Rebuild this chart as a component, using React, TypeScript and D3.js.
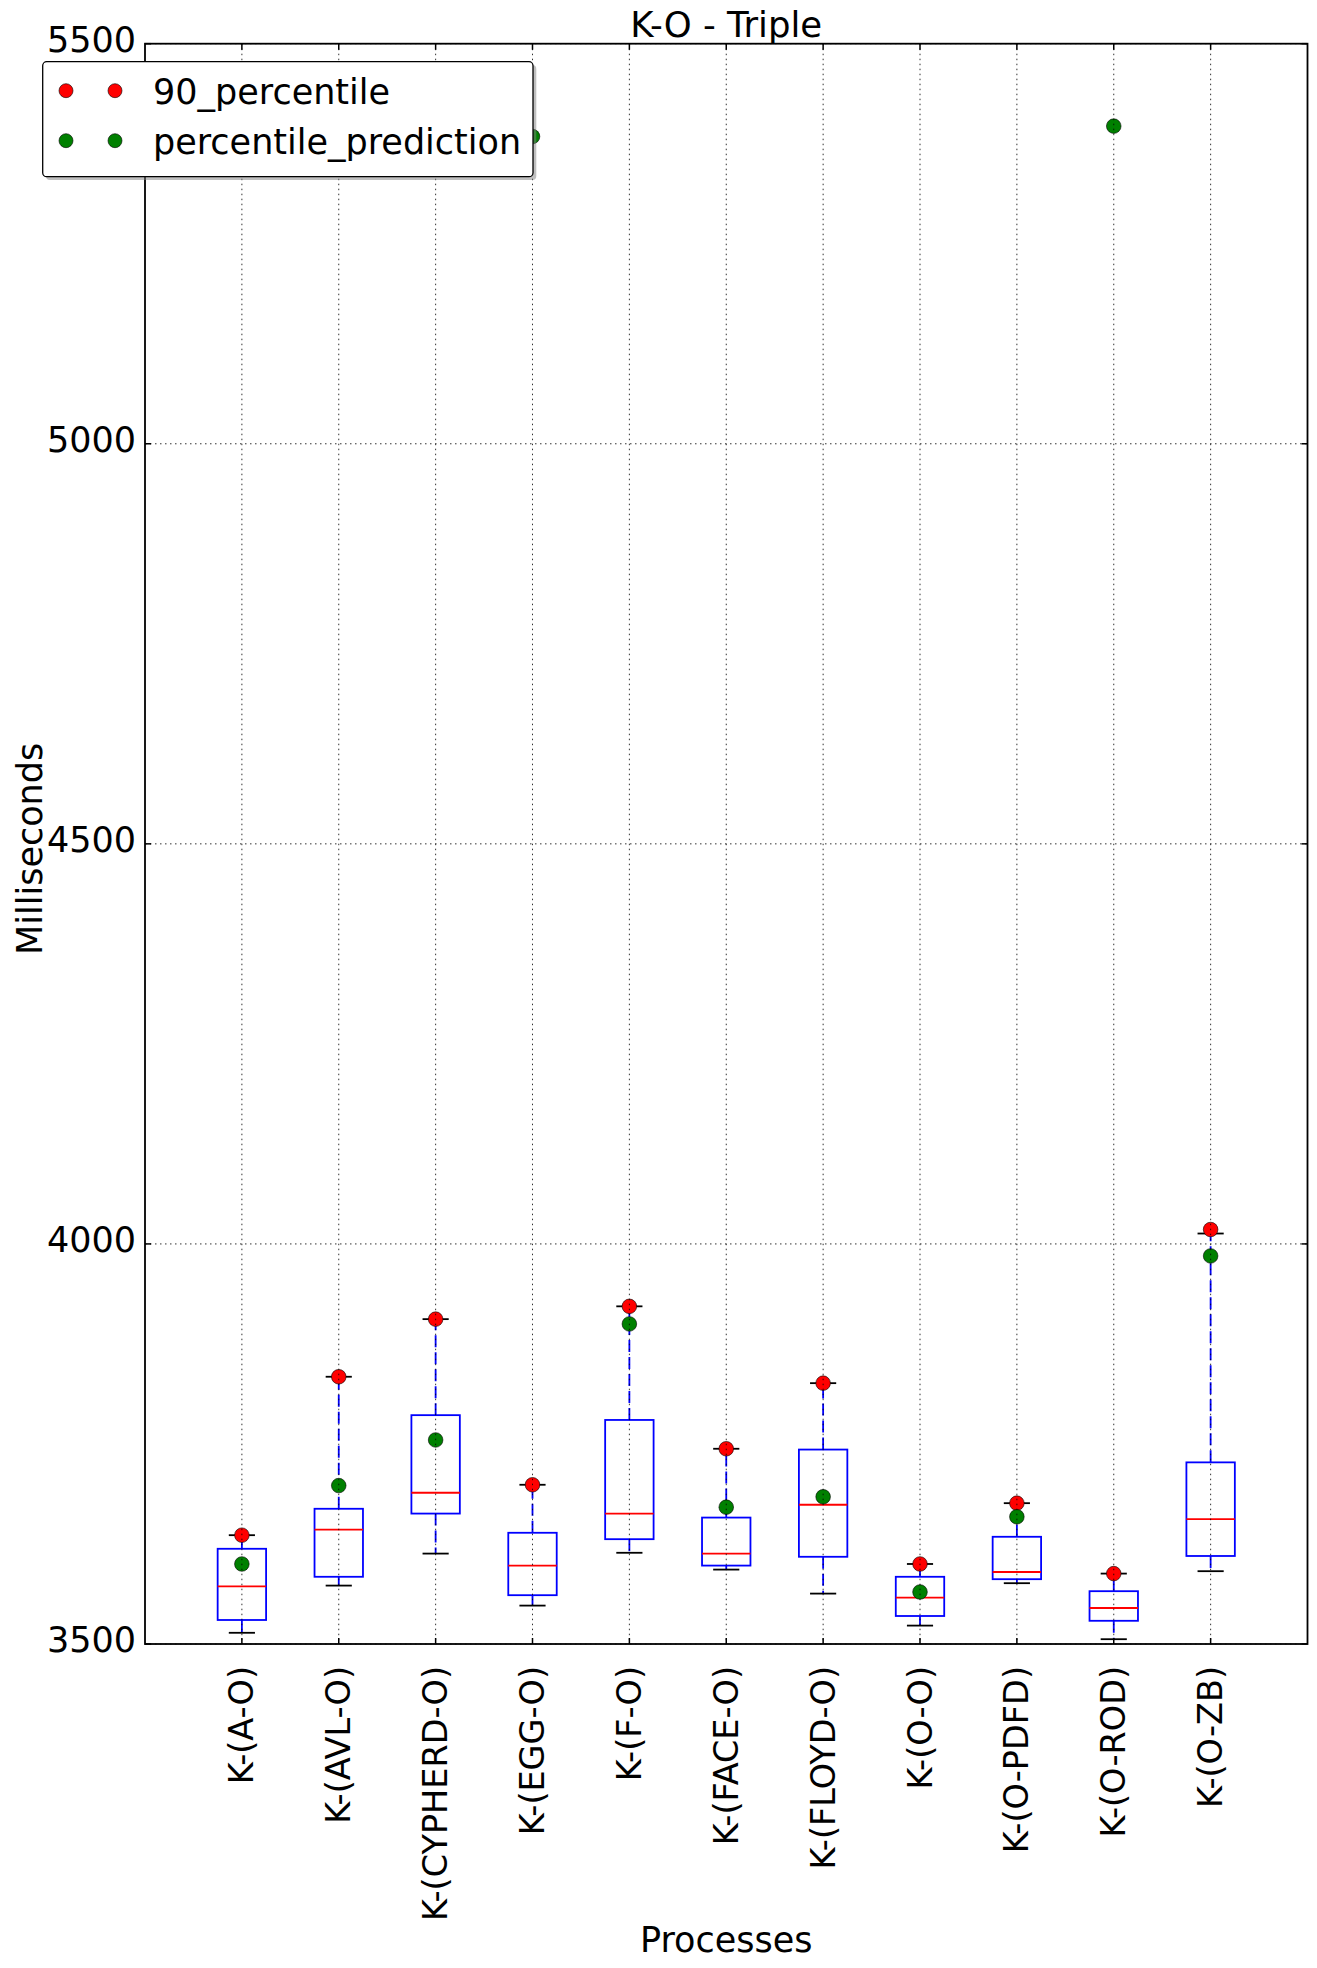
import React, { Component } from 'react';
import * as d3 from "d3";

const categories = ['K-(A-O)', 'K-(AVL-O)', 'K-(CYPHERD-O)', 'K-(EGG-O)', 'K-(F-O)', 'K-(FACE-O)',
  'K-(FLOYD-O)', 'K-(O-O)', 'K-(O-PDFD)', 'K-(O-ROD)', 'K-(O-ZB)'];
const whiskerLow = [3514, 3573, 3613, 3548, 3614, 3593, 3563, 3523, 3576, 3506, 3591];
const q1 = [3530, 3584, 3663, 3561, 3631, 3598, 3609, 3535, 3581, 3529, 3610];
const median = [3572, 3643, 3689, 3598, 3663, 3613, 3674, 3558, 3590, 3545, 3656];
const q3 = [3619, 3669, 3786, 3639, 3780, 3658, 3743, 3584, 3634, 3566, 3727];
const whiskerHigh = [3636, 3834, 3906, 3699, 3922, 3744, 3826, 3600, 3676, 3588, 4013];
const percentile90 = [3636, 3834, 3906, 3699, 3922, 3744, 3826, 3600, 3676, 3588, 4018];
const percentilePrediction = [3600, 3698, 3755, 5384, 3900, 3671, 3684, 3565, 3659, 5397, 3985];
const yTicks = [3500, 4000, 4500, 5000, 5500];

const FONT = "'DejaVu Sans', sans-serif";

class Chart extends Component {
  componentDidMount() {
    this.renderChart();
  }
  renderChart() {
    const width = 1317, height = 1968;
    d3.selectAll("#chart > *").remove();

    const svg = d3.select("#chart")
      .append("svg")
      .attr("width", width)
      .attr("height", height)
      .style("display", "block")
      .attr("font-family", FONT);

    const left = 145, right = 1307.5, top = 43.7, bottom = 1644;

    // positions 1..11 like matplotlib boxplot, xlim 0..12
    const x = d3.scaleLinear().domain([0, categories.length + 1]).range([left, right]);
    const y = d3.scaleLinear().domain([3500, 5500]).range([bottom, top]);
    const unit = x(1) - x(0);
    const boxW = unit * 0.5, capW = unit * 0.27;

    const rows = categories.map((c, i) => ({
      name: c, pos: i + 1, lo: whiskerLow[i], q1: q1[i], med: median[i], q3: q3[i],
      hi: whiskerHigh[i], p90: percentile90[i], pred: percentilePrediction[i]
    }));

    const plot = svg.append("g");

    // whiskers (dashed blue)
    rows.forEach(d => {
      const cx = x(d.pos);
      [[d.q3, d.hi], [d.q1, d.lo]].forEach(([a, b]) => {
        plot.append("line")
          .attr("x1", cx).attr("x2", cx)
          .attr("y1", y(a)).attr("y2", y(b))
          .attr("stroke", "#0000ff")
          .attr("stroke-width", 1.8)
          .attr("stroke-dasharray", "12,5");
      });
      // caps
      [d.hi, d.lo].forEach(v => {
        plot.append("line")
          .attr("x1", cx - capW / 2).attr("x2", cx + capW / 2)
          .attr("y1", y(v)).attr("y2", y(v))
          .attr("stroke", "#000")
          .attr("stroke-width", 1.8);
      });
      // box
      plot.append("rect")
        .attr("x", cx - boxW / 2)
        .attr("y", y(d.q3))
        .attr("width", boxW)
        .attr("height", y(d.q1) - y(d.q3))
        .attr("fill", "none")
        .attr("stroke", "#0000ff")
        .attr("stroke-width", 1.8);
      // median
      plot.append("line")
        .attr("x1", cx - boxW / 2).attr("x2", cx + boxW / 2)
        .attr("y1", y(d.med)).attr("y2", y(d.med))
        .attr("stroke", "#ff0000")
        .attr("stroke-width", 1.8);
    });

    // points
    const r = 7.3;
    plot.selectAll(".p90").data(rows).enter().append("circle")
      .attr("cx", d => x(d.pos)).attr("cy", d => y(d.p90)).attr("r", r)
      .attr("fill", "#ff0000").attr("stroke", "#000").attr("stroke-width", 0.6);
    plot.selectAll(".pred").data(rows).enter().append("circle")
      .attr("cx", d => x(d.pos)).attr("cy", d => y(d.pred)).attr("r", r)
      .attr("fill", "#008000").attr("stroke", "#000").attr("stroke-width", 0.6);

    // grid drawn on top (classic style)
    const grid = svg.append("g")
      .attr("stroke", "#000")
      .attr("stroke-width", 1)
      .attr("stroke-dasharray", "1.5,3.5")
      .attr("opacity", 0.8);
    rows.forEach(d => {
      grid.append("line").attr("x1", x(d.pos)).attr("x2", x(d.pos)).attr("y1", top).attr("y2", bottom);
    });
    yTicks.forEach(t => {
      grid.append("line").attr("x1", left).attr("x2", right).attr("y1", y(t)).attr("y2", y(t));
    });

    // ticks inward on all sides
    const ticks = svg.append("g").attr("stroke", "#000").attr("stroke-width", 1.5);
    rows.forEach(d => {
      ticks.append("line").attr("x1", x(d.pos)).attr("x2", x(d.pos)).attr("y1", bottom).attr("y2", bottom - 6);
      ticks.append("line").attr("x1", x(d.pos)).attr("x2", x(d.pos)).attr("y1", top).attr("y2", top + 6);
    });
    yTicks.forEach(t => {
      ticks.append("line").attr("x1", left).attr("x2", left + 6).attr("y1", y(t)).attr("y2", y(t));
      ticks.append("line").attr("x1", right).attr("x2", right - 6).attr("y1", y(t)).attr("y2", y(t));
    });

    // frame
    svg.append("rect")
      .attr("x", left).attr("y", top)
      .attr("width", right - left).attr("height", bottom - top)
      .attr("fill", "none").attr("stroke", "#000").attr("stroke-width", 1.8);

    // tick labels
    yTicks.forEach(t => {
      svg.append("text")
        .attr("x", left - 9).attr("y", y(t) + 8)
        .attr("text-anchor", "end")
        .attr("font-size", 35)
        .text(t);
    });
    rows.forEach(d => {
      svg.append("text")
        .attr("transform", "translate(" + x(d.pos) + "," + (bottom + 22) + ") rotate(-90)")
        .attr("text-anchor", "end")
        .attr("dominant-baseline", "central")
        .attr("font-size", 33.5)
        .text(d.name);
    });

    // titles
    svg.append("text")
      .attr("x", (left + right) / 2).attr("y", 37.3)
      .attr("text-anchor", "middle")
      .attr("font-size", 35.5)
      .text("K-O - Triple");
    svg.append("text")
      .attr("x", (left + right) / 2).attr("y", 1951.7)
      .attr("text-anchor", "middle")
      .attr("font-size", 35)
      .text("Processes");
    svg.append("text")
      .attr("transform", "translate(41.7," + ((top + bottom) / 2 + 5) + ") rotate(-90)")
      .attr("text-anchor", "middle")
      .attr("font-size", 35)
      .text("Milliseconds");

    // legend
    const legend = svg.append("g");
    legend.append("rect")
      .attr("x", 46).attr("y", 65).attr("width", 490.3).attr("height", 115)
      .attr("rx", 4).attr("fill", "#7f7f7f").attr("opacity", 0.5);
    legend.append("rect")
      .attr("x", 42.7).attr("y", 61.7).attr("width", 490.3).attr("height", 115)
      .attr("rx", 4).attr("fill", "#fff").attr("stroke", "#000").attr("stroke-width", 1.3);
    const items = [
      { label: "90_percentile", color: "#ff0000" },
      { label: "percentile_prediction", color: "#008000" }
    ];
    items.forEach((it, i) => {
      const cy = 90.7 + i * 50;
      [66, 115].forEach(mx => {
        legend.append("circle").attr("cx", mx).attr("cy", cy).attr("r", 7)
          .attr("fill", it.color).attr("stroke", "#000").attr("stroke-width", 0.6);
      });
      legend.append("text")
        .attr("x", 153).attr("y", cy + 12.8)
        .attr("font-size", 35)
        .text(it.label);
    });
  }
  render() {
    return (<div id="chart"></div>);
  }
}

export default function App() {
  return (
    <div style={{ position: "absolute", left: 0, top: 0, background: "#fff" }}>
      <Chart />
    </div>
  );
}
